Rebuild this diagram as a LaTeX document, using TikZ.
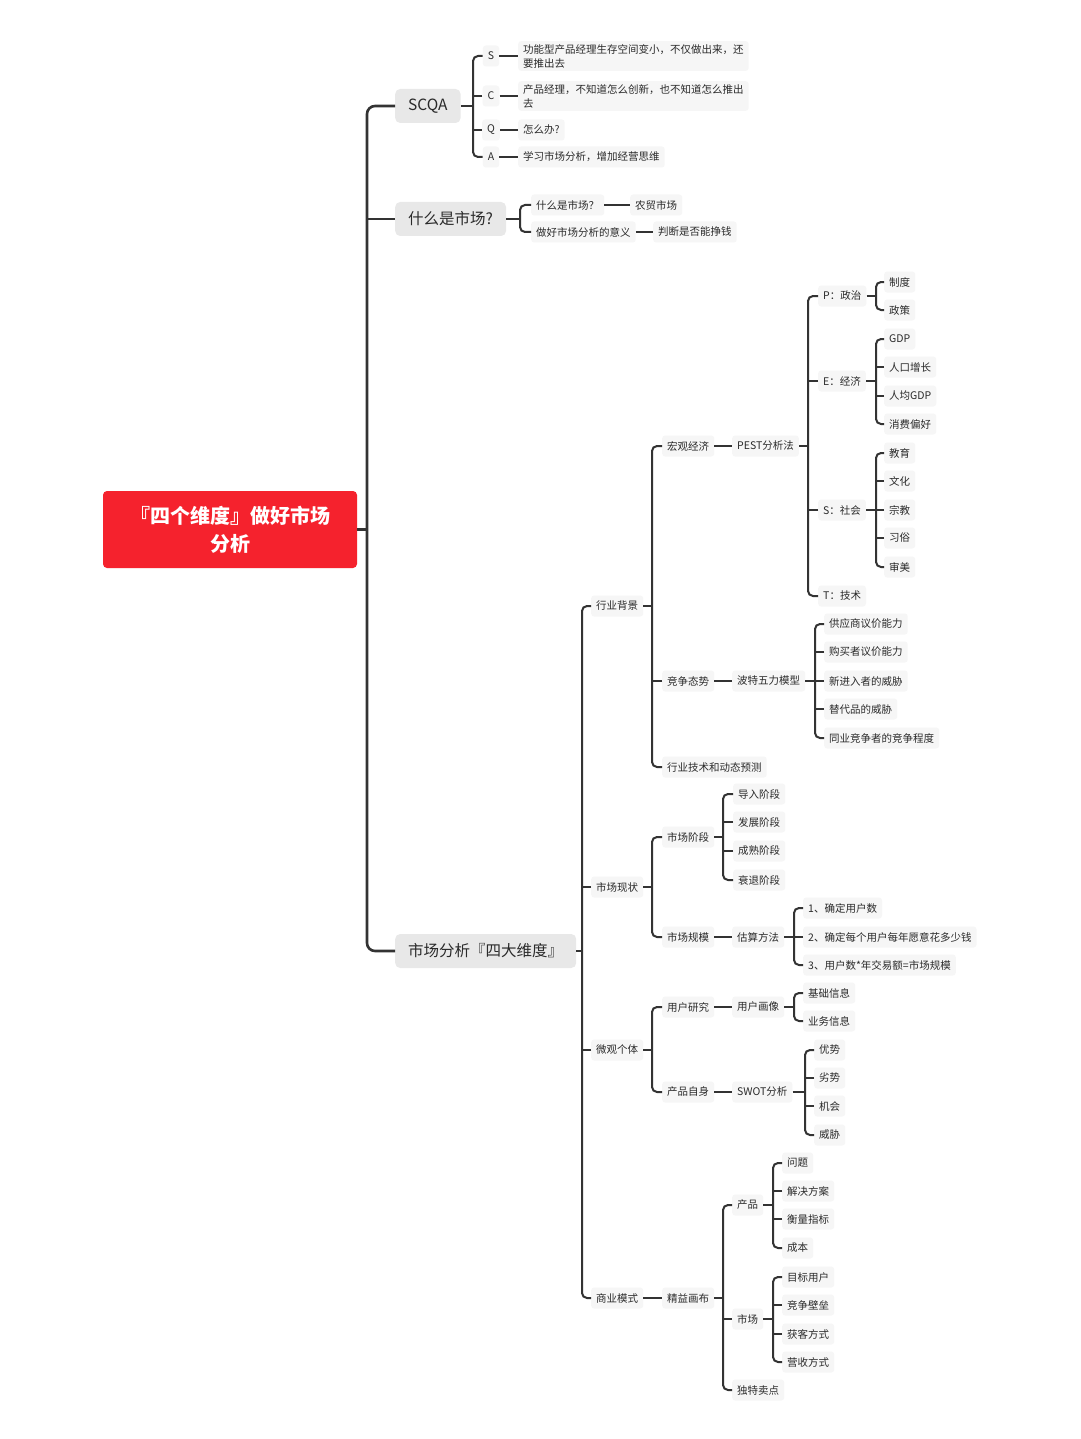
\documentclass[tikz,border=0pt]{standalone}
\usepackage{fontspec}
\setmainfont{Noto Sans CJK SC}
\usetikzlibrary{calc}
\definecolor{lc}{HTML}{333333}
\definecolor{tc}{HTML}{2A2A2A}
\definecolor{gone}{HTML}{E8E8E8}
\definecolor{gtwo}{HTML}{F6F6F6}
\definecolor{rootred}{HTML}{F5222D}
\newcommand\mfork[5]{%
  \path let \p1=(#1.east) in (#2pt,\y1) coordinate (b#1);
  \draw[conn] (#1.east) -- (b#1);
  \draw[conn,rounded corners=5pt] (#3.west) -| (b#1) |- (#4.west);
  \foreach \c in {#5}{\draw[conn] (\c.west) -- (\c.west -| b#1);}
}
\newcommand\mforkb[4]{%
  \path let \p1=(#1.east) in (#2pt,\y1) coordinate (b#1);
  \draw[conn] (#1.east) -- (b#1);
  \draw[conn,rounded corners=5pt] (#3.west) -| (b#1) |- (#4.west);
}
\begin{document}
\begin{tikzpicture}[x=1pt,y=-1pt,
  sn/.style={anchor=west, fill=gtwo, rounded corners=3pt, inner xsep=5pt, inner ysep=3pt, minimum height=21pt, text=tc, font=\fontsize{10.5}{14}\selectfont},
  lt/.style={sn, anchor=center},
  ln/.style={anchor=west, fill=gone, rounded corners=5pt, inner xsep=13pt, minimum height=34pt, text=tc, font=\fontsize{15.5}{18}\selectfont},
  conn/.style={draw=lc, line width=2pt},
  trunk/.style={draw=lc, line width=2.6pt}]
\useasboundingbox (0,0) rectangle (1080,1439);
\fill[white] (0,0) rectangle (1080,1439);

% root
\node[fill=rootred, rounded corners=4pt, minimum width=254pt, minimum height=77pt, text=white, align=center, font=\fontsize{20}{28}\selectfont\bfseries] (root) at (230,529.5) {『四个维度』做好市场\\分析};

% level 1
\node[ln] (scqa) at (395,106) {SCQA};
\node[ln] (what) at (395,219) {什么是市场?};
\node[ln] (four) at (395,951) {市场分析『四大维度』};

\coordinate (broot) at (367,529.5);
\draw[trunk] (root.east) -- (broot);
\draw[trunk,rounded corners=8pt] (scqa.west) -| (broot) |- (four.west);
\draw[trunk] (what.west) -- (what.west -| broot);

% SCQA
\node[lt] (qs) at (491,56) {S};
\node[lt] (qc) at (491,96) {C};
\node[lt] (qq) at (491,130) {Q};
\node[lt] (qa) at (491,157) {A};
\mfork{scqa}{473}{qs}{qa}{qc,qq}
\node[sn, align=left] (qst) at (518,56) {功能型产品经理生存空间变小，不仅做出来，还\\要推出去};
\node[sn, align=left] (qct) at (518,96) {产品经理，不知道怎么创新，也不知道怎么推出\\去};
\node[sn] (qqt) at (518,130) {怎么办?};
\node[sn] (qat) at (518,157) {学习市场分析，增加经营思维};
\draw[conn] (qs.east) -- (qst.west);
\draw[conn] (qc.east) -- (qct.west);
\draw[conn] (qq.east) -- (qqt.west);
\draw[conn] (qa.east) -- (qat.west);

% what is market
\node[sn] (wa) at (531,205) {什么是市场？};
\node[sn] (wb) at (531,232) {做好市场分析的意义};
\mforkb{what}{520}{wa}{wb}
\node[sn] (waa) at (630,205) {农贸市场};
\node[sn] (wba) at (653,232) {判断是否能挣钱};
\draw[conn] (wa.east) -- (waa.west);
\draw[conn] (wb.east) -- (wba.west);

% four dimensions
\node[sn] (hy) at (591,606) {行业背景};
\node[sn] (sc) at (591,887) {市场现状};
\node[sn] (wg) at (591,1050) {微观个体};
\node[sn] (sy) at (591,1298) {商业模式};
\mfork{four}{582}{hy}{sy}{sc,wg}

% industry background
\node[sn] (hg) at (662,446) {宏观经济};
\node[sn] (jz) at (662,681) {竞争态势};
\node[sn] (hj) at (662,767) {行业技术和动态预测};
\mfork{hy}{652}{hg}{hj}{jz}

\node[sn] (pest) at (732,446) {PEST分析法};
\draw[conn] (hg.east) -- (pest.west);
\node[sn] (pp) at (818,296) {P：政治};
\node[sn] (pe) at (818,381) {E：经济};
\node[sn] (ps) at (818,510) {S：社会};
\node[sn] (pt) at (818,596) {T：技术};
\mfork{pest}{808}{pp}{pt}{pe,ps}

\node[sn] (ppa) at (884,282) {制度};
\node[sn] (ppb) at (884,310) {政策};
\mforkb{pp}{876}{ppa}{ppb}

\node[sn] (pea) at (884,339) {GDP};
\node[sn] (peb) at (884,367) {人口增长};
\node[sn] (pec) at (884,396) {人均GDP};
\node[sn] (ped) at (884,424) {消费偏好};
\mfork{pe}{876}{pea}{ped}{peb,pec}

\node[sn] (psa) at (884,453) {教育};
\node[sn] (psb) at (884,481) {文化};
\node[sn] (psc) at (884,510) {宗教};
\node[sn] (psd) at (884,538) {习俗};
\node[sn] (pse) at (884,567) {审美};
\mfork{ps}{876}{psa}{pse}{psb,psc,psd}

\node[sn] (wl) at (732,681) {波特五力模型};
\draw[conn] (jz.east) -- (wl.west);
\node[sn] (fa) at (824,624) {供应商议价能力};
\node[sn] (fb) at (824,652) {购买者议价能力};
\node[sn] (fc) at (824,681) {新进入者的威胁};
\node[sn] (fd) at (824,709) {替代品的威胁};
\node[sn] (fe) at (824,738) {同业竞争者的竞争程度};
\mfork{wl}{815}{fa}{fe}{fb,fc,fd}

% market status
\node[sn] (jd) at (662,837) {市场阶段};
\node[sn] (gm) at (662,937) {市场规模};
\mforkb{sc}{652}{jd}{gm}
\node[sn] (ja) at (733,794) {导入阶段};
\node[sn] (jb) at (733,822) {发展阶段};
\node[sn] (jc) at (733,851) {成熟阶段};
\node[sn] (je) at (733,880) {衰退阶段};
\mfork{jd}{723}{ja}{je}{jb,jc}

\node[sn] (gs) at (732,937) {估算方法};
\draw[conn] (gm.east) -- (gs.west);
\node[sn] (ga) at (803,908) {1、确定用户数};
\node[sn] (gb) at (803,937) {2、确定每个用户每年愿意花多少钱};
\node[sn] (gc) at (803,965) {3、用户数*年交易额=市场规模};
\mfork{gs}{794}{ga}{gc}{gb}

% micro individual
\node[sn] (yy) at (662,1007) {用户研究};
\node[sn] (cz) at (662,1092) {产品自身};
\mforkb{wg}{652}{yy}{cz}
\node[sn] (hx) at (732,1007) {用户画像};
\draw[conn] (yy.east) -- (hx.west);
\node[sn] (xa) at (803,993) {基础信息};
\node[sn] (xb) at (803,1021) {业务信息};
\mforkb{hx}{794}{xa}{xb}

\node[sn] (sw) at (732,1092) {SWOT分析};
\draw[conn] (cz.east) -- (sw.west);
\node[sn] (swa) at (814,1050) {优势};
\node[sn] (swb) at (814,1078) {劣势};
\node[sn] (swc) at (814,1106) {机会};
\node[sn] (swd) at (814,1135) {威胁};
\mfork{sw}{805}{swa}{swd}{swb,swc}

% business model
\node[sn] (jy) at (662,1298) {精益画布};
\draw[conn] (sy.east) -- (jy.west);
\node[sn] (cp) at (732,1205) {产品};
\node[sn] (sch) at (732,1319) {市场};
\node[sn] (dt) at (732,1390) {独特卖点};
\mfork{jy}{723}{cp}{dt}{sch}

\node[sn] (ca) at (782,1163) {问题};
\node[sn] (cb) at (782,1191) {解决方案};
\node[sn] (cc) at (782,1219) {衡量指标};
\node[sn] (cd) at (782,1248) {成本};
\mfork{cp}{773}{ca}{cd}{cb,cc}

\node[sn] (ma) at (782,1277) {目标用户};
\node[sn] (mb) at (782,1305) {竞争壁垒};
\node[sn] (mc) at (782,1334) {获客方式};
\node[sn] (md) at (782,1362) {营收方式};
\mfork{sch}{773}{ma}{md}{mb,mc}
\end{tikzpicture}
\end{document}
